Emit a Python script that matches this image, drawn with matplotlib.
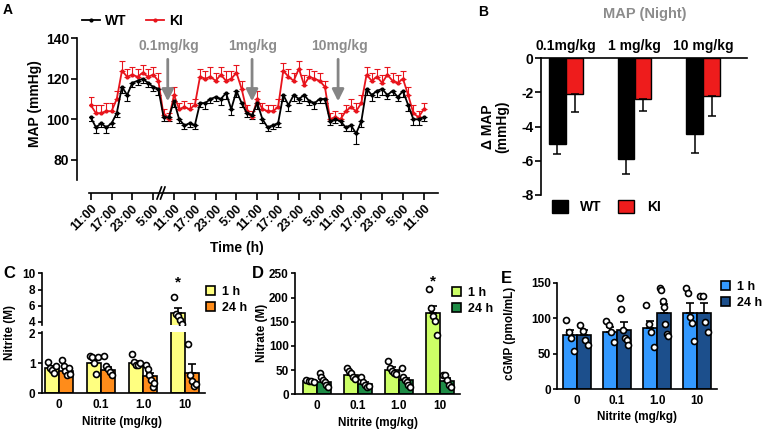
import matplotlib.pyplot as plt
import numpy as np
from matplotlib.patches import Patch
from matplotlib.lines import Line2D

plt.rcParams['font.family'] = ['Liberation Sans', 'DejaVu Sans']
plt.rcParams['font.weight'] = 'bold'
plt.rcParams['axes.labelweight'] = 'bold'
plt.rcParams['axes.unicode_minus'] = False
plt.rcParams['axes.linewidth'] = 1.2

# ---- panel A: MAP telemetry, 1.5 h bins ----
time_labels = ['11:00', '17:00', '23:00', '5:00'] * 4 + ['11:00']
wt_map = [101, 96, 98, 96, 98, 103, 116, 112, 118, 119, 120, 118, 116, 115, 101, 101,
          109, 100, 97, 98, 97, 108, 108, 110, 111, 110, 113, 105, 114, 108, 103, 102,
          108, 100, 96, 97, 98, 112, 107, 112, 110, 112, 109, 108, 110, 110, 99, 100,
          99, 96, 97, 93, 99, 115, 112, 114, 115, 112, 114, 111, 114, 107, 100, 100,
          101]
wt_sem = [2, 3, 2, 3, 2, 2, 3, 3, 2, 2, 2, 2, 2, 3, 2, 2,
          3, 2, 2, 2, 2, 2, 3, 2, 2, 3, 3, 3, 3, 2, 2, 2,
          3, 2, 2, 2, 2, 3, 3, 3, 2, 3, 2, 3, 2, 2, 2, 2,
          2, 2, 3, 5, 3, 3, 3, 3, 3, 2, 2, 2, 3, 3, 3, 3,
          2]
ki_map = [107, 103, 103, 104, 104, 110, 124, 121, 122, 121, 123, 121, 122, 119, 102, 100,
          112, 105, 106, 105, 107, 121, 120, 121, 119, 122, 119, 120, 123, 115, 104, 101,
          110, 105, 104, 104, 106, 124, 121, 119, 125, 117, 121, 120, 119, 116, 100, 101,
          100, 104, 106, 104, 108, 122, 119, 121, 118, 122, 119, 118, 120, 112, 103, 101,
          105]
ki_sem = [4, 4, 4, 4, 4, 4, 5, 4, 4, 4, 4, 4, 4, 4, 3, 3,
          4, 3, 3, 3, 3, 4, 4, 5, 4, 4, 5, 4, 4, 4, 3, 3,
          4, 3, 3, 3, 4, 4, 4, 4, 4, 5, 4, 4, 4, 3, 3, 3,
          3, 3, 4, 4, 4, 4, 4, 4, 4, 4, 4, 4, 4, 4, 4, 3,
          3]
dose_text = ['0.1mg/kg', '1mg/kg', '10mg/kg']
dose_hour = [22.2, 46.5, 71.3]

# ---- panel B: night delta MAP ----
night_doses = ['0.1mg/kg', '1 mg/kg', '10 mg/kg']
wt_dmap = [-5.0, -5.9, -4.45]
wt_dmap_sem = [0.6, 0.9, 1.1]
ki_dmap = [-2.08, -2.36, -2.2]
ki_dmap_sem = [1.05, 0.75, 1.15]

# ---- panels C-E ----
nitrite_doses = ['0', '0.1', '1.0', '10']
nitrite_1h = [0.84, 1.0, 1.02, 5.1]
nitrite_1h_sem = [0.08, 0.1, 0.07, 0.6]
nitrite_24h = [0.74, 0.79, 0.58, 0.68]
nitrite_24h_sem = [0.08, 0.1, 0.1, 0.28]
nitrite_1h_pts = [[1.05, 0.85, 0.78, 0.68, 0.9], [1.25, 1.2, 1.0, 0.65, 1.2],
                  [1.3, 1.05, 0.95, 0.95, 1.0], [7.1, 5.0, 4.7, 4.2, 3.7]]
nitrite_24h_pts = [[1.1, 0.9, 0.75, 0.6, 0.85, 0.65], [1.25, 0.9, 0.8, 0.7, 0.6],
                   [0.95, 0.8, 0.6, 0.45, 0.2, 0.35], [1.65, 0.6, 0.4, 0.25, 0.3]]

nitrate_1h = [28, 40, 51, 168]
nitrate_1h_sem = [2, 4, 5, 14]
nitrate_24h = [26, 22, 29, 27]
nitrate_24h_sem = [4, 3, 5, 6]
nitrate_1h_pts = [[30, 28, 27, 25], [55, 48, 45, 35, 32], [68, 55, 48, 45, 42],
                  [218, 178, 162, 152, 122]]
nitrate_24h_pts = [[45, 35, 30, 25, 20, 15], [35, 25, 20, 15, 17], [55, 35, 30, 25, 20, 15],
                   [40, 40, 30, 20, 15]]

cgmp_1h = [76, 81, 86, 107]
cgmp_1h_sem = [8, 7, 10, 14]
cgmp_24h = [76, 84, 108, 108]
cgmp_24h_sem = [7, 10, 12, 14]
cgmp_1h_pts = [[98, 80, 72, 54], [96, 90, 80, 66], [119, 92, 81, 59], [142, 136, 102, 93, 68]]
cgmp_24h_pts = [[90, 82, 70, 63], [129, 113, 83, 72, 69, 62],
                [143, 140, 124, 116, 92, 78, 75], [131, 131, 95, 81]]

W, H = 764, 432
fig = plt.figure(figsize=(W / 100, H / 100), dpi=100)


def add_ax(x0, y0, x1, y1):
    return fig.add_axes([x0 / W, 1 - y1 / H, (x1 - x0) / W, (y1 - y0) / H])


def fxy(x, y):
    return (x / W, 1 - y / H)


def letter(x, y, s, size=11):
    fig.text(*fxy(x, y), s, fontsize=size, fontweight='bold', ha='left', va='top')


# ================= A =================
hours = np.arange(len(wt_map)) * 1.5
axA = add_ax(89, 38.3, 438, 180)
# spine moves reset the ticks, so do them first (offsets are in points)
for s in ['top', 'right']:
    axA.spines[s].set_visible(False)
axA.spines['left'].set_position(('outward', 8.6))
axA.spines['bottom'].set_position(('outward', 9.4))
axA.errorbar(hours, ki_map, yerr=[np.zeros(len(ki_sem)), ki_sem], color='#e8141c',
             lw=1.3, marker='o', ms=2, capsize=2, elinewidth=0.8, capthick=0.8)
axA.errorbar(hours, wt_map, yerr=[wt_sem, np.zeros(len(wt_sem))], color='black',
             lw=1.3, marker='o', ms=2, capsize=2, elinewidth=0.8, capthick=0.8)
axA.set_xlim(-0.5, 100.1)
axA.set_ylim(70, 140)
axA.set_yticks([80, 100, 120, 140])
axA.set_xticks(np.arange(0, 97, 6))
axA.tick_params(axis='y', labelsize=10, length=4, width=1.2, pad=1.5)
axA.tick_params(axis='x', length=5, width=1.2, pad=2)
axA.set_xticklabels(time_labels, rotation=45, ha='right', va='top', rotation_mode='anchor', fontsize=9)
axA.set_ylabel('MAP (mmHg)', fontsize=10)
axA.yaxis.set_label_coords(-0.135, 0.54)
axA.set_xlabel('Time (h)', fontsize=10)
axA.xaxis.set_label_coords(0.424, -0.43)
for txt, hr in zip(dose_text, dose_hour):
    axA.annotate('', xy=(hr, 107.5), xytext=(hr, 131),
                 arrowprops=dict(arrowstyle='-|>,head_length=0.7,head_width=0.35',
                                 color='#858585', lw=2))
    axA.text(hr + 0.3, 136.2, txt, color='#8c8c8c', fontsize=10, ha='center', va='center')
axA.legend(handles=[Line2D([], [], color='black', marker='o', ms=2, lw=1.3),
                    Line2D([], [], color='#e8141c', marker='o', ms=2, lw=1.3)],
           labels=['WT', 'KI'], ncol=2, loc='center left', bbox_to_anchor=fxy(82, 21),
           bbox_transform=fig.transFigure, frameon=False, fontsize=10,
           handlelength=1.3, handletextpad=0.35, columnspacing=1.4, borderpad=0, borderaxespad=0)
for dx in (0, 3.5):
    fig.add_artist(Line2D([(157 + dx) / W, (161.5 + dx) / W], [1 - 199 / H, 1 - 187 / H],
                          color='black', lw=1.2, transform=fig.transFigure))
letter(3, 3, 'A', 10)

# ================= B =================
axB = add_ax(541, 58.3, 747, 195)
g = np.arange(len(night_doses))
axB.bar(g - 0.125, wt_dmap, 0.24, color='black', edgecolor='black', lw=1)
axB.bar(g + 0.125, ki_dmap, 0.24, color='#ee1c1c', edgecolor='black', lw=1)
axB.errorbar(g - 0.125, wt_dmap, yerr=[wt_dmap_sem, [0] * 3], fmt='none', ecolor='black',
             capsize=3, elinewidth=1.1, capthick=1.1)
axB.errorbar(g + 0.125, ki_dmap, yerr=[ki_dmap_sem, [0] * 3], fmt='none', ecolor='black',
             capsize=3, elinewidth=1.1, capthick=1.1)
axB.set_xlim(-0.365, 2.64)
axB.set_ylim(-8, 0)
axB.set_yticks([0, -2, -4, -6, -8])
axB.set_xticks([])
axB.tick_params(axis='y', labelsize=10, length=4, width=1.2, pad=1.5)
for s in ['bottom', 'right']:
    axB.spines[s].set_visible(False)
for gi, lab in zip(g, night_doses):
    axB.text(gi, 0.3, lab, ha='center', va='bottom', fontsize=10)
axB.set_ylabel('Δ MAP\n(mmHg)', fontsize=10, linespacing=1.0)
axB.yaxis.set_label_coords(-0.155, 0.5)
fig.text(*fxy(645, 14), 'MAP (Night)', color='#8c8c8c', fontsize=10.5, ha='center', va='center')
axB.legend(handles=[Patch(fc='black', ec='black'), Patch(fc='#ee1c1c', ec='black')],
           labels=['WT', 'KI'], ncol=2, loc='center', bbox_to_anchor=fxy(606, 207),
           bbox_transform=fig.transFigure, frameon=False, fontsize=10,
           handlelength=1.15, handleheight=1.15, handletextpad=0.9, columnspacing=1.2,
           borderpad=0, borderaxespad=0)
letter(478, 5, 'B', 10)


# ================= C / D / E =================
def bars(ax, m1, s1, p1, m2, s2, p2, c1, c2, bw):
    x = np.arange(len(m1))
    for xs, m, s, pts, c in ((x - bw / 2, m1, s1, p1, c1), (x + bw / 2, m2, s2, p2, c2)):
        ax.bar(xs, m, bw, color=c, edgecolor='black', lw=1.2, zorder=2)
        ax.errorbar(xs, m, yerr=[[0] * len(m), s], fmt='none', ecolor='black',
                    capsize=3, elinewidth=1.2, capthick=1.2, zorder=3)
        for xi, vals in zip(xs, pts):
            jx = xi + np.linspace(-0.3, 0.3, len(vals)) * bw
            ax.plot(jx, vals, 'o', ms=4.3, mfc='white', mec='black', mew=1.2, zorder=4)
    for s in ['top', 'right']:
        ax.spines[s].set_visible(False)
    ax.tick_params(axis='y', labelsize=8.5, length=3, width=1.2, pad=1.5)
    ax.tick_params(axis='x', length=0, labelsize=8.5, pad=4)


def small_legend(ax, c1, c2, x, y):
    ax.legend(handles=[Patch(fc=c1, ec='black', lw=1.2), Patch(fc=c2, ec='black', lw=1.2)],
              labels=['1 h', '24 h'], loc='upper left', bbox_to_anchor=fxy(x, y),
              bbox_transform=fig.transFigure, frameon=False, fontsize=9,
              handlelength=0.75, handleheight=0.75, handletextpad=0.5, labelspacing=0.3,
              borderpad=0, borderaxespad=0)


c_yel, c_org = '#ffff80', '#ff8c1a'
# broken y axis: upper segment 4-10, lower segment 0-2
axCt = add_ax(41.7, 273.3, 205, 325.2)
axCb = add_ax(41.7, 331.7, 205, 393.3)
for ax in (axCt, axCb):
    bars(ax, nitrite_1h, nitrite_1h_sem, nitrite_1h_pts, nitrite_24h, nitrite_24h_sem,
         nitrite_24h_pts, c_yel, c_org, 0.334)
    ax.set_xlim(-0.42, 3.48)
axCt.set_ylim(3.6, 10)
axCt.set_yticks([4, 6, 8, 10])
axCt.spines['bottom'].set_visible(False)
axCt.set_xticks([])
axCt.text(3 - 0.167, 8.9, '*', ha='center', va='center', fontsize=11)
axCb.set_ylim(0, 2.05)
axCb.set_yticks([0, 1, 2])
axCb.set_xticks(range(4))
axCb.set_xticklabels(nitrite_doses)
fig.text(*fxy(10, 333), 'Nitrite (M)', rotation=90, fontsize=8.5, ha='center', va='center')
fig.text(*fxy(122, 422), 'Nitrite (mg/kg)', fontsize=8.5, ha='center', va='center')
small_legend(axCt, c_yel, c_org, 206, 286)
letter(3, 266, 'C', 12)

c_lg, c_dg = '#ccff66', '#1e8c46'
axD = add_ax(295, 273.3, 460, 394.3)
bars(axD, nitrate_1h, nitrate_1h_sem, nitrate_1h_pts, nitrate_24h, nitrate_24h_sem,
     nitrate_24h_pts, c_lg, c_dg, 0.34)
axD.set_xlim(-0.537, 3.49)
axD.set_ylim(0, 250)
axD.set_yticks([0, 50, 100, 150, 200, 250])
axD.set_xticks(range(4))
axD.set_xticklabels(nitrite_doses)
axD.text(3 - 0.17, 233, '*', ha='center', va='center', fontsize=11)
fig.text(*fxy(262, 333), 'Nitrate (M)', rotation=90, fontsize=8.5, ha='center', va='center')
fig.text(*fxy(378, 423), 'Nitrite (mg/kg)', fontsize=8.5, ha='center', va='center')
small_legend(axD, c_lg, c_dg, 452, 287)
letter(252, 266, 'D', 12)

c_lb, c_db = '#3399ff', '#1c4f8c'
axE = add_ax(557, 282.7, 717, 389.3)
bars(axE, cgmp_1h, cgmp_1h_sem, cgmp_1h_pts, cgmp_24h, cgmp_24h_sem, cgmp_24h_pts,
     c_lb, c_db, 0.35)
axE.set_xlim(-0.5, 3.5)
axE.set_ylim(0, 150)
axE.set_yticks([0, 50, 100, 150])
axE.set_xticks(range(4))
axE.set_xticklabels(nitrite_doses)
fig.text(*fxy(510, 333), 'cGMP (pmol/mL)', rotation=90, fontsize=8.5, ha='center', va='center')
fig.text(*fxy(637, 417), 'Nitrite (mg/kg)', fontsize=8.5, ha='center', va='center')
small_legend(axE, c_lb, c_db, 721, 281)
letter(501, 271, 'E', 12)

fig.savefig('out.png', dpi=100)
